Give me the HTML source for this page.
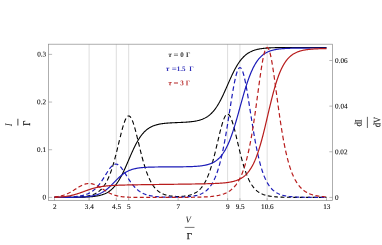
<!DOCTYPE html>
<html><head><meta charset="utf-8"><style>
html,body{margin:0;padding:0;background:#fff;}
svg{display:block}
text{font-family:"Liberation Serif",serif;text-rendering:geometricPrecision;}
.t{font-size:7.2px;fill:#000;stroke:#000;stroke-width:0.08px;}
.lg{font-size:7px;font-weight:bold;}
.ax{font-size:9px;fill:#1a1a1a;}
.axc{stroke:#1a1a1a;stroke-width:0.15px;}
.axb{stroke:#1a1a1a;stroke-width:0.25px;}
</style></head><body>
<svg width="382" height="245" viewBox="0 0 382 245">
<defs>
<filter id="f" x="0" y="0" width="382" height="245" filterUnits="userSpaceOnUse"><feOffset dx="0" dy="0"/></filter>
<clipPath id="c"><rect x="48.5" y="44.2" width="284.0" height="156.4"/></clipPath>
</defs>
<rect width="382" height="245" fill="#fff"/>
<line x1="89.12" y1="44.2" x2="89.12" y2="200.6" stroke="#d6d6d6" stroke-width="0.8"/><line x1="116.32" y1="44.2" x2="116.32" y2="200.6" stroke="#d6d6d6" stroke-width="0.8"/><line x1="128.68" y1="44.2" x2="128.68" y2="200.6" stroke="#d6d6d6" stroke-width="0.8"/><line x1="227.59" y1="44.2" x2="227.59" y2="200.6" stroke="#d6d6d6" stroke-width="0.8"/><line x1="239.95" y1="44.2" x2="239.95" y2="200.6" stroke="#d6d6d6" stroke-width="0.8"/><line x1="267.15" y1="44.2" x2="267.15" y2="200.6" stroke="#d6d6d6" stroke-width="0.8"/>
<g clip-path="url(#c)">
<path d="M54.50 197.40 L54.99 197.40 L55.49 197.40 L55.98 197.40 L56.48 197.40 L56.97 197.40 L57.47 197.40 L57.96 197.40 L58.46 197.40 L58.95 197.39 L59.45 197.39 L59.94 197.39 L60.43 197.39 L60.93 197.39 L61.42 197.39 L61.92 197.39 L62.41 197.39 L62.91 197.39 L63.40 197.38 L63.90 197.38 L64.39 197.38 L64.89 197.38 L65.38 197.38 L65.87 197.38 L66.37 197.37 L66.86 197.37 L67.36 197.37 L67.85 197.37 L68.35 197.37 L68.84 197.36 L69.34 197.36 L69.83 197.36 L70.33 197.35 L70.82 197.35 L71.31 197.35 L71.81 197.34 L72.30 197.34 L72.80 197.34 L73.29 197.33 L73.79 197.33 L74.28 197.32 L74.78 197.32 L75.27 197.31 L75.77 197.30 L76.26 197.30 L76.75 197.29 L77.25 197.28 L77.74 197.27 L78.24 197.27 L78.73 197.26 L79.23 197.25 L79.72 197.24 L80.22 197.23 L80.71 197.22 L81.21 197.20 L81.70 197.19 L82.19 197.18 L82.69 197.16 L83.18 197.15 L83.68 197.13 L84.17 197.11 L84.67 197.09 L85.16 197.08 L85.66 197.05 L86.15 197.03 L86.65 197.01 L87.14 196.98 L87.63 196.96 L88.13 196.93 L88.62 196.90 L89.12 196.87 L89.61 196.83 L90.11 196.80 L90.60 196.76 L91.10 196.72 L91.59 196.67 L92.09 196.63 L92.58 196.58 L93.07 196.53 L93.57 196.47 L94.06 196.41 L94.56 196.35 L95.05 196.28 L95.55 196.21 L96.04 196.14 L96.54 196.06 L97.03 195.98 L97.52 195.89 L98.02 195.79 L98.51 195.69 L99.01 195.59 L99.50 195.47 L100.00 195.36 L100.49 195.23 L100.99 195.09 L101.48 194.95 L101.98 194.80 L102.47 194.64 L102.96 194.47 L103.46 194.30 L103.95 194.11 L104.45 193.91 L104.94 193.70 L105.44 193.47 L105.93 193.24 L106.43 192.99 L106.92 192.73 L107.42 192.45 L107.91 192.16 L108.40 191.85 L108.90 191.52 L109.39 191.18 L109.89 190.82 L110.38 190.44 L110.88 190.04 L111.37 189.62 L111.87 189.18 L112.36 188.72 L112.86 188.24 L113.35 187.73 L113.84 187.20 L114.34 186.65 L114.83 186.07 L115.33 185.46 L115.82 184.83 L116.32 184.18 L116.81 183.49 L117.31 182.78 L117.80 182.04 L118.30 181.28 L118.79 180.49 L119.28 179.67 L119.78 178.82 L120.27 177.95 L120.77 177.05 L121.26 176.13 L121.76 175.18 L122.25 174.20 L122.75 173.21 L123.24 172.19 L123.74 171.15 L124.23 170.09 L124.72 169.01 L125.22 167.92 L125.71 166.82 L126.21 165.70 L126.70 164.57 L127.20 163.43 L127.69 162.28 L128.19 161.14 L128.68 159.98 L129.18 158.83 L129.67 157.68 L130.16 156.54 L130.66 155.40 L131.15 154.27 L131.65 153.15 L132.14 152.05 L132.64 150.95 L133.13 149.88 L133.63 148.82 L134.12 147.78 L134.62 146.76 L135.11 145.77 L135.60 144.79 L136.10 143.84 L136.59 142.92 L137.09 142.02 L137.58 141.15 L138.08 140.30 L138.57 139.48 L139.07 138.69 L139.56 137.92 L140.06 137.18 L140.55 136.47 L141.04 135.79 L141.54 135.13 L142.03 134.50 L142.53 133.90 L143.02 133.32 L143.52 132.76 L144.01 132.23 L144.51 131.73 L145.00 131.24 L145.50 130.78 L145.99 130.34 L146.48 129.92 L146.98 129.52 L147.47 129.14 L147.97 128.78 L148.46 128.44 L148.96 128.12 L149.45 127.81 L149.95 127.51 L150.44 127.24 L150.94 126.97 L151.43 126.72 L151.92 126.49 L152.42 126.26 L152.91 126.05 L153.41 125.85 L153.90 125.66 L154.40 125.48 L154.89 125.31 L155.39 125.15 L155.88 125.00 L156.38 124.86 L156.87 124.73 L157.36 124.60 L157.86 124.48 L158.35 124.37 L158.85 124.26 L159.34 124.16 L159.84 124.06 L160.33 123.97 L160.83 123.89 L161.32 123.81 L161.82 123.73 L162.31 123.66 L162.80 123.59 L163.30 123.53 L163.79 123.47 L164.29 123.41 L164.78 123.35 L165.28 123.30 L165.77 123.26 L166.27 123.21 L166.76 123.17 L167.26 123.12 L167.75 123.09 L168.24 123.05 L168.74 123.01 L169.23 122.98 L169.73 122.95 L170.22 122.92 L170.72 122.89 L171.21 122.86 L171.71 122.83 L172.20 122.80 L172.70 122.78 L173.19 122.76 L173.68 122.73 L174.18 122.71 L174.67 122.69 L175.17 122.66 L175.66 122.64 L176.16 122.62 L176.65 122.60 L177.15 122.58 L177.64 122.56 L178.13 122.54 L178.63 122.52 L179.12 122.50 L179.62 122.47 L180.11 122.45 L180.61 122.43 L181.10 122.41 L181.60 122.39 L182.09 122.36 L182.59 122.34 L183.08 122.31 L183.57 122.29 L184.07 122.26 L184.56 122.23 L185.06 122.21 L185.55 122.18 L186.05 122.14 L186.54 122.11 L187.04 122.08 L187.53 122.04 L188.03 122.00 L188.52 121.96 L189.01 121.92 L189.51 121.88 L190.00 121.83 L190.50 121.78 L190.99 121.73 L191.49 121.67 L191.98 121.61 L192.48 121.55 L192.97 121.49 L193.47 121.42 L193.96 121.35 L194.45 121.27 L194.95 121.19 L195.44 121.10 L195.94 121.01 L196.43 120.92 L196.93 120.82 L197.42 120.71 L197.92 120.59 L198.41 120.47 L198.91 120.35 L199.40 120.21 L199.89 120.07 L200.39 119.92 L200.88 119.76 L201.38 119.59 L201.87 119.42 L202.37 119.23 L202.86 119.03 L203.36 118.82 L203.85 118.60 L204.35 118.37 L204.84 118.12 L205.33 117.87 L205.83 117.59 L206.32 117.31 L206.82 117.00 L207.31 116.69 L207.81 116.35 L208.30 116.00 L208.80 115.63 L209.29 115.24 L209.79 114.83 L210.28 114.41 L210.77 113.96 L211.27 113.49 L211.76 113.00 L212.26 112.48 L212.75 111.95 L213.25 111.39 L213.74 110.80 L214.24 110.19 L214.73 109.56 L215.23 108.90 L215.72 108.21 L216.21 107.50 L216.71 106.77 L217.20 106.00 L217.70 105.21 L218.19 104.40 L218.69 103.56 L219.18 102.69 L219.68 101.80 L220.17 100.88 L220.67 99.94 L221.16 98.98 L221.65 98.00 L222.15 96.99 L222.64 95.97 L223.14 94.92 L223.63 93.86 L224.13 92.79 L224.62 91.70 L225.12 90.60 L225.61 89.49 L226.11 88.38 L226.60 87.25 L227.09 86.13 L227.59 85.00 L228.08 83.87 L228.58 82.74 L229.07 81.62 L229.57 80.50 L230.06 79.39 L230.56 78.29 L231.05 77.20 L231.55 76.13 L232.04 75.07 L232.53 74.03 L233.03 73.00 L233.52 72.00 L234.02 71.02 L234.51 70.05 L235.01 69.11 L235.50 68.20 L236.00 67.31 L236.49 66.44 L236.99 65.60 L237.48 64.78 L237.97 63.99 L238.47 63.23 L238.96 62.49 L239.46 61.78 L239.95 61.10 L240.45 60.44 L240.94 59.80 L241.44 59.19 L241.93 58.61 L242.43 58.05 L242.92 57.51 L243.41 57.00 L243.91 56.51 L244.40 56.04 L244.90 55.59 L245.39 55.16 L245.89 54.76 L246.38 54.37 L246.88 54.00 L247.37 53.65 L247.87 53.31 L248.36 52.99 L248.85 52.69 L249.35 52.41 L249.84 52.13 L250.34 51.88 L250.83 51.63 L251.33 51.40 L251.82 51.18 L252.32 50.97 L252.81 50.77 L253.31 50.59 L253.80 50.41 L254.29 50.24 L254.79 50.08 L255.28 49.93 L255.78 49.79 L256.27 49.66 L256.77 49.53 L257.26 49.41 L257.76 49.30 L258.25 49.19 L258.75 49.09 L259.24 49.00 L259.73 48.91 L260.23 48.82 L260.72 48.74 L261.22 48.67 L261.71 48.60 L262.21 48.53 L262.70 48.47 L263.20 48.41 L263.69 48.35 L264.18 48.30 L264.68 48.25 L265.17 48.20 L265.67 48.16 L266.16 48.11 L266.66 48.08 L267.15 48.04 L267.65 48.00 L268.14 47.97 L268.64 47.94 L269.13 47.91 L269.62 47.88 L270.12 47.86 L270.61 47.83 L271.11 47.81 L271.60 47.79 L272.10 47.76 L272.59 47.75 L273.09 47.73 L273.58 47.71 L274.08 47.69 L274.57 47.68 L275.06 47.66 L275.56 47.65 L276.05 47.64 L276.55 47.63 L277.04 47.61 L277.54 47.60 L278.03 47.59 L278.53 47.58 L279.02 47.58 L279.52 47.57 L280.01 47.56 L280.50 47.55 L281.00 47.54 L281.49 47.54 L281.99 47.53 L282.48 47.53 L282.98 47.52 L283.47 47.52 L283.97 47.51 L284.46 47.51 L284.96 47.50 L285.45 47.50 L285.94 47.49 L286.44 47.49 L286.93 47.49 L287.43 47.48 L287.92 47.48 L288.42 47.48 L288.91 47.47 L289.41 47.47 L289.90 47.47 L290.40 47.47 L290.89 47.47 L291.38 47.46 L291.88 47.46 L292.37 47.46 L292.87 47.46 L293.36 47.46 L293.86 47.45 L294.35 47.45 L294.85 47.45 L295.34 47.45 L295.84 47.45 L296.33 47.45 L296.82 47.45 L297.32 47.45 L297.81 47.45 L298.31 47.44 L298.80 47.44 L299.30 47.44 L299.79 47.44 L300.29 47.44 L300.78 47.44 L301.28 47.44 L301.77 47.44 L302.26 47.44 L302.76 47.44 L303.25 47.44 L303.75 47.44 L304.24 47.44 L304.74 47.44 L305.23 47.44 L305.73 47.44 L306.22 47.44 L306.72 47.44 L307.21 47.44 L307.70 47.44 L308.20 47.43 L308.69 47.43 L309.19 47.43 L309.68 47.43 L310.18 47.43 L310.67 47.43 L311.17 47.43 L311.66 47.43 L312.16 47.43 L312.65 47.43 L313.14 47.43 L313.64 47.43 L314.13 47.43 L314.63 47.43 L315.12 47.43 L315.62 47.43 L316.11 47.43 L316.61 47.43 L317.10 47.43 L317.60 47.43 L318.09 47.43 L318.58 47.43 L319.08 47.43 L319.57 47.43 L320.07 47.43 L320.56 47.43 L321.06 47.43 L321.55 47.43 L322.05 47.43 L322.54 47.43 L323.04 47.43 L323.53 47.43 L324.02 47.43 L324.52 47.43 L325.01 47.43 L325.51 47.43 L326.00 47.43 L326.50 47.43" fill="none" stroke="#000000" stroke-width="1.1"/>
<path d="M54.50 197.38 L54.99 197.38 L55.49 197.38 L55.98 197.38 L56.48 197.38 L56.97 197.38 L57.47 197.37 L57.96 197.37 L58.40 197.37 M60.90 197.36 L60.93 197.36 L61.42 197.36 L61.92 197.35 L62.41 197.35 L62.91 197.35 L63.40 197.34 L63.90 197.34 L64.39 197.34 L64.80 197.33 M67.30 197.30 L67.36 197.30 L67.85 197.30 L68.35 197.29 L68.84 197.28 L69.34 197.28 L69.83 197.27 L70.33 197.26 L70.82 197.25 L71.20 197.24 M73.70 197.18 L73.79 197.18 L74.28 197.16 L74.78 197.14 L75.27 197.13 L75.77 197.11 L76.26 197.09 L76.75 197.07 L77.25 197.04 L77.60 197.03 M80.09 196.88 L80.22 196.87 L80.71 196.84 L81.21 196.80 L81.70 196.76 L82.19 196.72 L82.69 196.67 L83.18 196.62 L83.68 196.57 L83.98 196.54 M86.47 196.20 L86.65 196.17 L87.14 196.09 L87.63 196.00 L88.13 195.91 L88.62 195.81 L89.12 195.70 L89.61 195.59 L90.11 195.47 L90.31 195.41 M92.73 194.67 L93.07 194.55 L93.57 194.36 L94.06 194.16 L94.56 193.94 L95.05 193.71 L95.55 193.47 L96.04 193.21 L96.38 193.02 M98.58 191.60 L99.01 191.27 L99.50 190.87 L100.00 190.45 L100.49 190.00 L100.99 189.52 L101.48 189.02 L101.69 188.79 M103.46 186.67 L103.46 186.67 L103.95 186.00 L104.45 185.29 L104.94 184.53 L105.44 183.74 L105.87 183.00 M107.22 180.48 L107.42 180.10 L107.91 179.06 L108.40 177.98 L108.90 176.84 L109.09 176.37 M110.17 173.66 L110.38 173.09 L110.88 171.73 L111.37 170.31 L111.69 169.35 M112.59 166.56 L112.86 165.69 L113.35 164.04 L113.84 162.33 L113.90 162.15 M114.69 159.30 L114.83 158.75 L115.33 156.89 L115.82 154.99 L115.86 154.84 M116.59 151.97 L116.81 151.07 L117.31 149.06 L117.69 147.48 M118.39 144.60 L118.79 142.92 L119.28 140.87 L119.47 140.10 M120.17 137.22 L120.27 136.80 L120.77 134.81 L121.26 132.85 L121.29 132.74 M122.05 129.88 L122.25 129.12 L122.75 127.36 L123.24 125.68 L123.31 125.45 M124.22 122.66 L124.23 122.64 L124.72 121.30 L125.22 120.09 L125.71 119.02 L125.99 118.50 M127.67 116.31 L127.69 116.29 L128.19 116.03 L128.68 115.94 L129.18 116.03 L129.67 116.29 L130.16 116.73 L130.66 117.33 L130.95 117.78 M132.25 120.34 L132.64 121.30 L133.13 122.64 L133.63 124.11 L133.79 124.64 M134.64 127.46 L135.11 129.12 L135.60 130.95 L135.85 131.91 M136.59 134.78 L136.59 134.81 L137.09 136.80 L137.58 138.82 L137.69 139.26 M138.39 142.15 L138.57 142.92 L139.07 144.98 L139.47 146.64 M140.17 149.52 L140.55 151.06 L141.04 153.04 L141.29 154.00 M142.03 156.87 L142.03 156.89 L142.53 158.75 L143.02 160.56 L143.24 161.32 M144.05 164.16 L144.51 165.69 L145.00 167.28 L145.41 168.54 M146.35 171.32 L146.48 171.72 L146.98 173.09 L147.47 174.39 L147.95 175.59 M149.09 178.26 L149.45 179.05 L149.95 180.09 L150.44 181.07 L150.94 182.00 L151.09 182.27 M152.55 184.71 L152.91 185.27 L153.41 185.98 L153.90 186.65 L154.40 187.29 L154.89 187.89 L155.15 188.19 M157.05 190.14 L157.36 190.42 L157.86 190.84 L158.35 191.24 L158.85 191.61 L159.34 191.96 L159.84 192.29 L160.33 192.60 L160.35 192.61 M162.64 193.81 L162.80 193.88 L163.30 194.09 L163.79 194.29 L164.29 194.47 L164.78 194.65 L165.28 194.81 L165.77 194.96 L166.27 195.10 L166.38 195.13 M168.84 195.69 L169.23 195.76 L169.73 195.85 L170.22 195.92 L170.72 196.00 L171.21 196.06 L171.71 196.12 L172.20 196.18 L172.70 196.22 L172.71 196.23 M175.21 196.40 L175.66 196.42 L176.16 196.44 L176.65 196.45 L177.15 196.46 L177.64 196.47 L178.13 196.47 L178.63 196.46 L179.11 196.46 M181.61 196.36 L182.09 196.33 L182.59 196.30 L183.08 196.25 L183.57 196.21 L184.07 196.16 L184.56 196.10 L185.06 196.04 L185.49 195.98 M187.97 195.55 L188.03 195.54 L188.52 195.43 L189.01 195.31 L189.51 195.19 L190.00 195.05 L190.50 194.91 L190.99 194.75 L191.49 194.59 L191.76 194.49 M194.12 193.50 L194.45 193.33 L194.95 193.07 L195.44 192.79 L195.94 192.49 L196.43 192.18 L196.93 191.84 L197.42 191.48 L197.58 191.36 M199.61 189.60 L199.89 189.32 L200.39 188.80 L200.88 188.26 L201.38 187.68 L201.87 187.06 L202.37 186.41 L202.41 186.36 M203.98 184.02 L204.35 183.42 L204.84 182.56 L205.33 181.65 L205.83 180.70 L206.12 180.11 M207.33 177.49 L207.81 176.37 L208.30 175.15 L208.80 173.88 L209.02 173.27 M210.00 170.51 L210.28 169.69 L210.77 168.18 L211.27 166.61 L211.41 166.15 M212.25 163.32 L212.26 163.29 L212.75 161.54 L213.25 159.74 L213.48 158.88 M214.23 156.02 L214.24 155.98 L214.73 154.04 L215.23 152.05 L215.35 151.54 M216.05 148.66 L216.21 147.97 L216.71 145.89 L217.12 144.16 M217.80 141.27 L218.19 139.60 L218.69 137.51 L218.87 136.77 M219.56 133.88 L219.68 133.40 L220.17 131.41 L220.67 129.46 L220.68 129.40 M221.45 126.55 L221.65 125.79 L222.15 124.07 L222.64 122.46 L222.75 122.14 M223.72 119.37 L224.13 118.35 L224.62 117.26 L225.12 116.32 L225.61 115.53 L225.73 115.38 M227.89 114.17 L228.08 114.21 L228.58 114.47 L229.07 114.92 L229.57 115.53 L230.06 116.32 L230.56 117.26 L230.60 117.35 M231.70 120.03 L232.04 120.97 L232.53 122.47 L233.03 124.08 L233.12 124.39 M233.92 127.23 L234.02 127.59 L234.51 129.47 L235.01 131.41 L235.08 131.70 M235.79 134.58 L236.00 135.44 L236.49 137.51 L236.86 139.08 M237.54 141.97 L237.97 143.80 L238.47 145.90 L238.61 146.47 M239.30 149.35 L239.46 150.03 L239.95 152.05 L240.40 153.84 M241.13 156.71 L241.44 157.89 L241.93 159.74 L242.32 161.17 M243.13 164.00 L243.41 164.98 L243.91 166.61 L244.40 168.19 L244.47 168.40 M245.40 171.18 L245.89 172.55 L246.38 173.88 L246.88 175.16 L246.99 175.45 M248.13 178.13 L248.36 178.65 L248.85 179.71 L249.35 180.71 L249.84 181.67 L250.11 182.16 M251.56 184.60 L251.82 185.01 L252.32 185.74 L252.81 186.43 L253.31 187.08 L253.80 187.70 L254.14 188.10 M256.03 190.07 L256.27 190.29 L256.77 190.73 L257.26 191.13 L257.76 191.52 L258.25 191.88 L258.75 192.22 L259.24 192.54 L259.31 192.58 M261.59 193.81 L261.71 193.87 L262.21 194.09 L262.70 194.29 L263.20 194.49 L263.69 194.67 L264.18 194.84 L264.68 195.00 L265.17 195.15 L265.31 195.19 M267.76 195.80 L268.14 195.87 L268.64 195.97 L269.13 196.06 L269.62 196.14 L270.12 196.22 L270.61 196.30 L271.11 196.37 L271.60 196.43 L271.62 196.44 M274.11 196.71 L274.57 196.75 L275.06 196.79 L275.56 196.83 L276.05 196.86 L276.55 196.90 L277.04 196.93 L277.54 196.96 L278.01 196.98 M280.51 197.10 L281.00 197.12 L281.49 197.14 L281.99 197.15 L282.48 197.17 L282.98 197.18 L283.47 197.20 L283.97 197.21 L284.40 197.22 M286.90 197.27 L286.93 197.27 L287.43 197.28 L287.92 197.29 L288.42 197.30 L288.91 197.30 L289.41 197.31 L289.90 197.31 L290.40 197.32 L290.80 197.32 M293.30 197.35 L293.36 197.35 L293.86 197.35 L294.35 197.35 L294.85 197.36 L295.34 197.36 L295.84 197.36 L296.33 197.36 L296.82 197.37 L297.20 197.37 M299.70 197.38 L299.79 197.38 L300.29 197.38 L300.78 197.38 L301.28 197.38 L301.77 197.38 L302.26 197.38 L302.76 197.38 L303.25 197.39 L303.60 197.39 M306.10 197.39 L306.22 197.39 L306.72 197.39 L307.21 197.39 L307.70 197.39 L308.20 197.39 L308.69 197.39 L309.19 197.39 L309.68 197.39 L310.00 197.39 M312.50 197.40 L312.65 197.40 L313.14 197.40 L313.64 197.40 L314.13 197.40 L314.63 197.40 L315.12 197.40 L315.62 197.40 L316.11 197.40 L316.40 197.40 M318.90 197.40 L319.08 197.40 L319.57 197.40 L320.07 197.40 L320.56 197.40 L321.06 197.40 L321.55 197.40 L322.05 197.40 L322.54 197.40 L322.80 197.40 M325.30 197.40 L325.51 197.40 L326.00 197.40 L326.50 197.40" fill="none" stroke="#000000" stroke-width="1.1"/>
<path d="M54.50 197.40 L54.99 197.40 L55.49 197.40 L55.98 197.40 L56.48 197.40 L56.97 197.40 L57.47 197.40 L57.96 197.39 L58.46 197.39 L58.95 197.39 L59.45 197.39 L59.94 197.39 L60.43 197.39 L60.93 197.39 L61.42 197.38 L61.92 197.38 L62.41 197.38 L62.91 197.38 L63.40 197.38 L63.90 197.38 L64.39 197.37 L64.89 197.37 L65.38 197.37 L65.87 197.36 L66.37 197.36 L66.86 197.36 L67.36 197.36 L67.85 197.35 L68.35 197.35 L68.84 197.34 L69.34 197.34 L69.83 197.33 L70.33 197.33 L70.82 197.32 L71.31 197.32 L71.81 197.31 L72.30 197.30 L72.80 197.30 L73.29 197.29 L73.79 197.28 L74.28 197.27 L74.78 197.26 L75.27 197.25 L75.77 197.24 L76.26 197.23 L76.75 197.22 L77.25 197.20 L77.74 197.19 L78.24 197.18 L78.73 197.16 L79.23 197.14 L79.72 197.12 L80.22 197.11 L80.71 197.08 L81.21 197.06 L81.70 197.04 L82.19 197.01 L82.69 196.99 L83.18 196.96 L83.68 196.93 L84.17 196.89 L84.67 196.86 L85.16 196.82 L85.66 196.78 L86.15 196.74 L86.65 196.70 L87.14 196.65 L87.63 196.60 L88.13 196.54 L88.62 196.48 L89.12 196.42 L89.61 196.36 L90.11 196.29 L90.60 196.21 L91.10 196.13 L91.59 196.05 L92.09 195.96 L92.58 195.87 L93.07 195.77 L93.57 195.66 L94.06 195.55 L94.56 195.43 L95.05 195.30 L95.55 195.16 L96.04 195.02 L96.54 194.87 L97.03 194.71 L97.52 194.54 L98.02 194.36 L98.51 194.18 L99.01 193.98 L99.50 193.77 L100.00 193.55 L100.49 193.32 L100.99 193.08 L101.48 192.83 L101.98 192.56 L102.47 192.28 L102.96 191.99 L103.46 191.69 L103.95 191.37 L104.45 191.04 L104.94 190.70 L105.44 190.35 L105.93 189.98 L106.43 189.60 L106.92 189.20 L107.42 188.80 L107.91 188.38 L108.40 187.95 L108.90 187.51 L109.39 187.06 L109.89 186.60 L110.38 186.13 L110.88 185.65 L111.37 185.16 L111.87 184.67 L112.36 184.18 L112.86 183.67 L113.35 183.17 L113.84 182.66 L114.34 182.15 L114.83 181.64 L115.33 181.14 L115.82 180.63 L116.32 180.13 L116.81 179.63 L117.31 179.14 L117.80 178.66 L118.30 178.18 L118.79 177.71 L119.28 177.25 L119.78 176.80 L120.27 176.36 L120.77 175.93 L121.26 175.51 L121.76 175.10 L122.25 174.71 L122.75 174.33 L123.24 173.96 L123.74 173.60 L124.23 173.26 L124.72 172.93 L125.22 172.62 L125.71 172.31 L126.21 172.02 L126.70 171.75 L127.20 171.48 L127.69 171.23 L128.19 170.98 L128.68 170.75 L129.18 170.53 L129.67 170.33 L130.16 170.13 L130.66 169.94 L131.15 169.76 L131.65 169.59 L132.14 169.44 L132.64 169.28 L133.13 169.14 L133.63 169.01 L134.12 168.88 L134.62 168.76 L135.11 168.65 L135.60 168.54 L136.10 168.44 L136.59 168.34 L137.09 168.26 L137.58 168.17 L138.08 168.09 L138.57 168.02 L139.07 167.95 L139.56 167.88 L140.06 167.82 L140.55 167.76 L141.04 167.71 L141.54 167.66 L142.03 167.61 L142.53 167.56 L143.02 167.52 L143.52 167.48 L144.01 167.45 L144.51 167.41 L145.00 167.38 L145.50 167.35 L145.99 167.32 L146.48 167.29 L146.98 167.27 L147.47 167.24 L147.97 167.22 L148.46 167.20 L148.96 167.18 L149.45 167.16 L149.95 167.14 L150.44 167.13 L150.94 167.11 L151.43 167.10 L151.92 167.09 L152.42 167.07 L152.91 167.06 L153.41 167.05 L153.90 167.04 L154.40 167.03 L154.89 167.02 L155.39 167.01 L155.88 167.01 L156.38 167.00 L156.87 166.99 L157.36 166.98 L157.86 166.98 L158.35 166.97 L158.85 166.97 L159.34 166.96 L159.84 166.96 L160.33 166.95 L160.83 166.95 L161.32 166.94 L161.82 166.94 L162.31 166.93 L162.80 166.93 L163.30 166.93 L163.79 166.92 L164.29 166.92 L164.78 166.92 L165.28 166.92 L165.77 166.91 L166.27 166.91 L166.76 166.91 L167.26 166.90 L167.75 166.90 L168.24 166.90 L168.74 166.90 L169.23 166.89 L169.73 166.89 L170.22 166.89 L170.72 166.89 L171.21 166.88 L171.71 166.88 L172.20 166.88 L172.70 166.88 L173.19 166.87 L173.68 166.87 L174.18 166.87 L174.67 166.86 L175.17 166.86 L175.66 166.86 L176.16 166.85 L176.65 166.85 L177.15 166.85 L177.64 166.84 L178.13 166.84 L178.63 166.83 L179.12 166.83 L179.62 166.82 L180.11 166.82 L180.61 166.81 L181.10 166.81 L181.60 166.80 L182.09 166.80 L182.59 166.79 L183.08 166.78 L183.57 166.77 L184.07 166.77 L184.56 166.76 L185.06 166.75 L185.55 166.74 L186.05 166.73 L186.54 166.72 L187.04 166.71 L187.53 166.70 L188.03 166.68 L188.52 166.67 L189.01 166.66 L189.51 166.64 L190.00 166.62 L190.50 166.61 L190.99 166.59 L191.49 166.57 L191.98 166.55 L192.48 166.53 L192.97 166.51 L193.47 166.48 L193.96 166.46 L194.45 166.43 L194.95 166.40 L195.44 166.37 L195.94 166.34 L196.43 166.30 L196.93 166.27 L197.42 166.23 L197.92 166.18 L198.41 166.14 L198.91 166.09 L199.40 166.04 L199.89 165.99 L200.39 165.94 L200.88 165.88 L201.38 165.82 L201.87 165.75 L202.37 165.68 L202.86 165.60 L203.36 165.52 L203.85 165.44 L204.35 165.35 L204.84 165.26 L205.33 165.16 L205.83 165.05 L206.32 164.94 L206.82 164.82 L207.31 164.69 L207.81 164.56 L208.30 164.42 L208.80 164.27 L209.29 164.11 L209.79 163.94 L210.28 163.76 L210.77 163.57 L211.27 163.37 L211.76 163.16 L212.26 162.94 L212.75 162.70 L213.25 162.45 L213.74 162.18 L214.24 161.90 L214.73 161.61 L215.23 161.30 L215.72 160.97 L216.21 160.62 L216.71 160.25 L217.20 159.86 L217.70 159.46 L218.19 159.02 L218.69 158.57 L219.18 158.09 L219.68 157.59 L220.17 157.06 L220.67 156.50 L221.16 155.92 L221.65 155.31 L222.15 154.66 L222.64 153.99 L223.14 153.28 L223.63 152.53 L224.13 151.76 L224.62 150.94 L225.12 150.10 L225.61 149.21 L226.11 148.28 L226.60 147.32 L227.09 146.32 L227.59 145.27 L228.08 144.19 L228.58 143.06 L229.07 141.90 L229.57 140.69 L230.06 139.44 L230.56 138.15 L231.05 136.82 L231.55 135.44 L232.04 134.03 L232.53 132.58 L233.03 131.10 L233.52 129.58 L234.02 128.02 L234.51 126.43 L235.01 124.81 L235.50 123.16 L236.00 121.48 L236.49 119.78 L236.99 118.06 L237.48 116.32 L237.97 114.57 L238.47 112.80 L238.96 111.02 L239.46 109.24 L239.95 107.45 L240.45 105.66 L240.94 103.88 L241.44 102.10 L241.93 100.33 L242.43 98.58 L242.92 96.84 L243.41 95.12 L243.91 93.42 L244.40 91.74 L244.90 90.09 L245.39 88.47 L245.89 86.88 L246.38 85.32 L246.88 83.80 L247.37 82.31 L247.87 80.87 L248.36 79.45 L248.85 78.08 L249.35 76.75 L249.84 75.46 L250.34 74.21 L250.83 73.00 L251.33 71.84 L251.82 70.71 L252.32 69.63 L252.81 68.58 L253.31 67.58 L253.80 66.62 L254.29 65.69 L254.79 64.80 L255.28 63.95 L255.78 63.14 L256.27 62.37 L256.77 61.62 L257.26 60.91 L257.76 60.24 L258.25 59.59 L258.75 58.98 L259.24 58.39 L259.73 57.84 L260.23 57.31 L260.72 56.81 L261.22 56.33 L261.71 55.87 L262.21 55.44 L262.70 55.04 L263.20 54.65 L263.69 54.28 L264.18 53.93 L264.68 53.60 L265.17 53.29 L265.67 52.99 L266.16 52.71 L266.66 52.45 L267.15 52.20 L267.65 51.96 L268.14 51.74 L268.64 51.53 L269.13 51.33 L269.62 51.14 L270.12 50.96 L270.61 50.79 L271.11 50.63 L271.60 50.48 L272.10 50.34 L272.59 50.21 L273.09 50.08 L273.58 49.96 L274.08 49.85 L274.57 49.74 L275.06 49.64 L275.56 49.55 L276.05 49.46 L276.55 49.37 L277.04 49.30 L277.54 49.22 L278.03 49.15 L278.53 49.08 L279.02 49.02 L279.52 48.96 L280.01 48.91 L280.50 48.85 L281.00 48.81 L281.49 48.76 L281.99 48.72 L282.48 48.67 L282.98 48.63 L283.47 48.60 L283.97 48.56 L284.46 48.53 L284.96 48.50 L285.45 48.47 L285.94 48.44 L286.44 48.42 L286.93 48.39 L287.43 48.37 L287.92 48.35 L288.42 48.33 L288.91 48.31 L289.41 48.29 L289.90 48.28 L290.40 48.26 L290.89 48.25 L291.38 48.23 L291.88 48.22 L292.37 48.21 L292.87 48.19 L293.36 48.18 L293.86 48.17 L294.35 48.16 L294.85 48.15 L295.34 48.14 L295.84 48.14 L296.33 48.13 L296.82 48.12 L297.32 48.11 L297.81 48.11 L298.31 48.10 L298.80 48.10 L299.30 48.09 L299.79 48.09 L300.29 48.08 L300.78 48.08 L301.28 48.07 L301.77 48.07 L302.26 48.06 L302.76 48.06 L303.25 48.06 L303.75 48.05 L304.24 48.05 L304.74 48.05 L305.23 48.05 L305.73 48.04 L306.22 48.04 L306.72 48.04 L307.21 48.04 L307.70 48.03 L308.20 48.03 L308.69 48.03 L309.19 48.03 L309.68 48.03 L310.18 48.03 L310.67 48.02 L311.17 48.02 L311.66 48.02 L312.16 48.02 L312.65 48.02 L313.14 48.02 L313.64 48.02 L314.13 48.02 L314.63 48.02 L315.12 48.02 L315.62 48.01 L316.11 48.01 L316.61 48.01 L317.10 48.01 L317.60 48.01 L318.09 48.01 L318.58 48.01 L319.08 48.01 L319.57 48.01 L320.07 48.01 L320.56 48.01 L321.06 48.01 L321.55 48.01 L322.05 48.01 L322.54 48.01 L323.04 48.01 L323.53 48.01 L324.02 48.01 L324.52 48.01 L325.01 48.01 L325.51 48.01 L326.00 48.01 L326.50 48.01" fill="none" stroke="#1c1cb8" stroke-width="1.2"/>
<path d="M54.50 197.34 L54.99 197.34 L55.49 197.34 L55.98 197.33 L56.48 197.33 L56.97 197.32 L57.47 197.32 L57.96 197.31 L58.40 197.31 M60.90 197.27 L60.93 197.27 L61.42 197.26 L61.92 197.25 L62.41 197.24 L62.91 197.23 L63.40 197.22 L63.90 197.21 L64.39 197.20 L64.80 197.19 M67.30 197.11 L67.36 197.11 L67.85 197.09 L68.35 197.07 L68.84 197.05 L69.34 197.03 L69.83 197.00 L70.33 196.98 L70.82 196.95 L71.20 196.93 M73.69 196.76 L73.79 196.75 L74.28 196.71 L74.78 196.66 L75.27 196.62 L75.77 196.57 L76.26 196.51 L76.75 196.46 L77.25 196.40 L77.58 196.36 M80.06 195.98 L80.22 195.95 L80.71 195.86 L81.21 195.76 L81.70 195.66 L82.19 195.55 L82.69 195.44 L83.18 195.31 L83.68 195.18 L83.89 195.13 M86.30 194.35 L86.65 194.23 L87.14 194.03 L87.63 193.83 L88.13 193.61 L88.62 193.38 L89.12 193.14 L89.61 192.88 L89.95 192.70 M92.17 191.32 L92.58 191.03 L93.07 190.66 L93.57 190.28 L94.06 189.87 L94.56 189.45 L95.05 189.01 L95.39 188.69 M97.29 186.74 L97.52 186.48 L98.02 185.91 L98.51 185.31 L99.01 184.70 L99.50 184.07 L100.00 183.41 L100.01 183.39 M101.63 181.10 L101.98 180.59 L102.47 179.85 L102.96 179.08 L103.46 178.31 L103.95 177.53 L104.03 177.41 M105.52 175.00 L105.93 174.33 L106.43 173.54 L106.92 172.75 L107.42 171.97 L107.87 171.27 M109.45 168.95 L109.89 168.37 L110.38 167.73 L110.88 167.14 L111.37 166.59 L111.87 166.09 L112.26 165.72 M114.47 164.34 L114.83 164.22 L115.33 164.12 L115.82 164.09 L116.32 164.12 L116.81 164.22 L117.31 164.38 L117.80 164.60 L118.24 164.86 M120.27 166.59 L120.27 166.59 L120.77 167.14 L121.26 167.73 L121.76 168.37 L122.25 169.03 L122.75 169.73 L122.93 170.00 M124.48 172.36 L124.72 172.75 L125.22 173.54 L125.71 174.33 L126.21 175.13 L126.70 175.94 L126.81 176.11 M128.31 178.51 L128.68 179.08 L129.18 179.85 L129.67 180.59 L130.16 181.32 L130.66 182.04 L130.75 182.16 M132.41 184.41 L132.64 184.70 L133.13 185.31 L133.63 185.91 L134.12 186.48 L134.62 187.02 L135.11 187.55 L135.21 187.66 M137.17 189.52 L137.58 189.87 L138.08 190.28 L138.57 190.66 L139.07 191.03 L139.56 191.38 L140.06 191.71 L140.48 191.98 M142.75 193.24 L143.02 193.38 L143.52 193.61 L144.01 193.82 L144.51 194.03 L145.00 194.22 L145.50 194.41 L145.99 194.58 L146.45 194.73 M148.88 195.41 L148.96 195.43 L149.45 195.55 L149.95 195.66 L150.44 195.76 L150.94 195.86 L151.43 195.95 L151.92 196.03 L152.42 196.11 L152.73 196.16 M155.21 196.48 L155.39 196.50 L155.88 196.56 L156.38 196.61 L156.87 196.65 L157.36 196.70 L157.86 196.74 L158.35 196.77 L158.85 196.81 L159.10 196.83 M161.60 196.97 L161.82 196.98 L162.31 197.00 L162.80 197.02 L163.30 197.04 L163.79 197.06 L164.29 197.08 L164.78 197.09 L165.28 197.11 L165.50 197.11 M168.00 197.17 L168.24 197.17 L168.74 197.18 L169.23 197.19 L169.73 197.19 L170.22 197.20 L170.72 197.20 L171.21 197.20 L171.71 197.20 L171.90 197.21 M174.40 197.20 L174.67 197.20 L175.17 197.20 L175.66 197.20 L176.16 197.19 L176.65 197.19 L177.15 197.18 L177.64 197.17 L178.13 197.16 L178.30 197.16 M180.80 197.10 L181.10 197.09 L181.60 197.08 L182.09 197.06 L182.59 197.04 L183.08 197.02 L183.57 197.00 L184.07 196.98 L184.56 196.95 L184.70 196.95 M187.19 196.79 L187.53 196.77 L188.03 196.73 L188.52 196.68 L189.01 196.64 L189.51 196.59 L190.00 196.54 L190.50 196.48 L190.99 196.43 L191.08 196.42 M193.56 196.05 L193.96 195.98 L194.45 195.89 L194.95 195.80 L195.44 195.69 L195.94 195.58 L196.43 195.46 L196.93 195.34 L197.40 195.21 M199.81 194.43 L199.89 194.40 L200.39 194.20 L200.88 194.00 L201.38 193.78 L201.87 193.55 L202.37 193.30 L202.86 193.03 L203.36 192.75 L203.43 192.71 M205.61 191.23 L205.83 191.06 L206.32 190.66 L206.82 190.23 L207.31 189.77 L207.81 189.29 L208.30 188.77 L208.68 188.36 M210.41 186.20 L210.77 185.70 L211.27 184.97 L211.76 184.19 L212.26 183.38 L212.75 182.51 L212.77 182.48 M214.08 179.93 L214.24 179.61 L214.73 178.53 L215.23 177.39 L215.72 176.19 L215.88 175.78 M216.91 173.04 L217.20 172.20 L217.70 170.73 L218.19 169.18 L218.34 168.69 M219.18 165.86 L219.18 165.85 L219.68 164.07 L220.17 162.20 L220.37 161.41 M221.08 158.53 L221.16 158.22 L221.65 156.09 L222.12 154.02 M222.74 151.11 L223.14 149.21 L223.63 146.74 L223.67 146.56 M224.23 143.64 L224.62 141.55 L225.07 139.07 M225.59 136.14 L225.61 136.04 L226.11 133.17 L226.38 131.55 M226.87 128.61 L227.09 127.25 L227.59 124.21 L227.62 124.02 M228.09 121.07 L228.58 117.99 L228.82 116.48 M229.28 113.53 L229.57 111.67 L229.99 108.93 M230.46 105.98 L230.56 105.33 L231.05 102.19 L231.18 101.38 M231.65 98.43 L232.04 96.05 L232.41 93.84 M232.91 90.90 L233.03 90.18 L233.52 87.40 L233.72 86.33 M234.28 83.40 L234.51 82.20 L235.01 79.82 L235.22 78.86 M235.90 75.98 L236.00 75.60 L236.49 73.78 L236.99 72.17 L237.20 71.56 M238.37 68.92 L238.47 68.74 L238.96 68.09 L239.46 67.70 L239.95 67.57 L240.45 67.70 L240.94 68.09 L241.44 68.74 L241.47 68.80 M242.66 71.43 L242.92 72.17 L243.41 73.78 L243.91 75.60 L243.97 75.84 M244.65 78.72 L244.90 79.82 L245.39 82.20 L245.60 83.26 M246.16 86.19 L246.38 87.40 L246.88 90.18 L246.98 90.76 M247.48 93.70 L247.87 96.05 L248.23 98.29 M248.70 101.24 L248.85 102.19 L249.35 105.33 L249.43 105.84 M249.89 108.79 L250.34 111.67 L250.61 113.39 M251.07 116.33 L251.33 117.99 L251.79 120.93 M252.26 123.88 L252.32 124.21 L252.81 127.25 L253.01 128.47 M253.50 131.41 L253.80 133.17 L254.29 136.00 M254.81 138.93 L255.28 141.55 L255.65 143.50 M256.21 146.43 L256.27 146.74 L256.77 149.21 L257.13 150.97 M257.75 153.88 L257.76 153.89 L258.25 156.10 L258.75 158.22 L258.79 158.39 M259.50 161.27 L259.73 162.20 L260.23 164.07 L260.69 165.72 M261.52 168.55 L261.71 169.18 L262.21 170.73 L262.70 172.20 L262.95 172.91 M263.97 175.65 L264.18 176.20 L264.68 177.39 L265.17 178.53 L265.67 179.61 L265.76 179.80 M267.07 182.36 L267.15 182.51 L267.65 183.38 L268.14 184.20 L268.64 184.97 L269.13 185.70 L269.41 186.09 M271.14 188.26 L271.60 188.77 L272.10 189.29 L272.59 189.77 L273.09 190.23 L273.58 190.66 L274.08 191.06 L274.20 191.16 M276.37 192.64 L276.55 192.75 L277.04 193.04 L277.54 193.30 L278.03 193.55 L278.53 193.78 L279.02 194.00 L279.52 194.21 L279.98 194.39 M282.39 195.18 L282.48 195.21 L282.98 195.34 L283.47 195.47 L283.97 195.59 L284.46 195.70 L284.96 195.80 L285.45 195.90 L285.94 195.99 L286.22 196.04 M288.70 196.41 L288.91 196.44 L289.41 196.50 L289.90 196.55 L290.40 196.60 L290.89 196.65 L291.38 196.70 L291.88 196.74 L292.37 196.78 L292.59 196.80 M295.09 196.96 L295.34 196.98 L295.84 197.00 L296.33 197.03 L296.82 197.05 L297.32 197.07 L297.81 197.09 L298.31 197.11 L298.80 197.13 L298.98 197.13 M301.48 197.21 L301.77 197.21 L302.26 197.23 L302.76 197.24 L303.25 197.25 L303.75 197.26 L304.24 197.26 L304.74 197.27 L305.23 197.28 L305.38 197.28 M307.88 197.32 L308.20 197.32 L308.69 197.32 L309.19 197.33 L309.68 197.33 L310.18 197.34 L310.67 197.34 L311.17 197.34 L311.66 197.35 L311.78 197.35 M314.28 197.36 L314.63 197.36 L315.12 197.37 L315.62 197.37 L316.11 197.37 L316.61 197.37 L317.10 197.37 L317.60 197.38 L318.09 197.38 L318.18 197.38 M320.68 197.38 L321.06 197.38 L321.55 197.39 L322.05 197.39 L322.54 197.39 L323.04 197.39 L323.53 197.39 L324.02 197.39 L324.52 197.39 L324.58 197.39" fill="none" stroke="#1c1cb8" stroke-width="1.2"/>
<path d="M54.50 197.40 L54.99 197.38 L55.49 197.35 L55.98 197.33 L56.48 197.30 L56.97 197.27 L57.47 197.24 L57.96 197.21 L58.46 197.17 L58.95 197.14 L59.45 197.10 L59.94 197.06 L60.43 197.02 L60.93 196.98 L61.42 196.93 L61.92 196.89 L62.41 196.84 L62.91 196.79 L63.40 196.73 L63.90 196.67 L64.39 196.61 L64.89 196.55 L65.38 196.48 L65.87 196.42 L66.37 196.34 L66.86 196.27 L67.36 196.19 L67.85 196.11 L68.35 196.02 L68.84 195.93 L69.34 195.84 L69.83 195.75 L70.33 195.65 L70.82 195.54 L71.31 195.43 L71.81 195.32 L72.30 195.21 L72.80 195.09 L73.29 194.96 L73.79 194.83 L74.28 194.70 L74.78 194.57 L75.27 194.43 L75.77 194.29 L76.26 194.14 L76.75 193.99 L77.25 193.83 L77.74 193.68 L78.24 193.52 L78.73 193.35 L79.23 193.19 L79.72 193.02 L80.22 192.85 L80.71 192.67 L81.21 192.50 L81.70 192.32 L82.19 192.14 L82.69 191.96 L83.18 191.78 L83.68 191.60 L84.17 191.41 L84.67 191.23 L85.16 191.05 L85.66 190.87 L86.15 190.69 L86.65 190.51 L87.14 190.33 L87.63 190.16 L88.13 189.98 L88.62 189.81 L89.12 189.64 L89.61 189.48 L90.11 189.31 L90.60 189.15 L91.10 189.00 L91.59 188.84 L92.09 188.69 L92.58 188.54 L93.07 188.40 L93.57 188.26 L94.06 188.13 L94.56 187.99 L95.05 187.87 L95.55 187.74 L96.04 187.62 L96.54 187.51 L97.03 187.40 L97.52 187.29 L98.02 187.18 L98.51 187.08 L99.01 186.99 L99.50 186.90 L100.00 186.81 L100.49 186.72 L100.99 186.64 L101.48 186.56 L101.98 186.49 L102.47 186.41 L102.96 186.34 L103.46 186.28 L103.95 186.22 L104.45 186.16 L104.94 186.10 L105.44 186.04 L105.93 185.99 L106.43 185.94 L106.92 185.90 L107.42 185.85 L107.91 185.81 L108.40 185.77 L108.90 185.73 L109.39 185.69 L109.89 185.65 L110.38 185.62 L110.88 185.59 L111.37 185.56 L111.87 185.53 L112.36 185.50 L112.86 185.48 L113.35 185.45 L113.84 185.43 L114.34 185.41 L114.83 185.39 L115.33 185.37 L115.82 185.35 L116.32 185.33 L116.81 185.31 L117.31 185.28 L117.80 185.26 L118.30 185.24 L118.79 185.22 L119.28 185.20 L119.78 185.19 L120.27 185.17 L120.77 185.15 L121.26 185.14 L121.76 185.12 L122.25 185.10 L122.75 185.09 L123.24 185.07 L123.74 185.06 L124.23 185.05 L124.72 185.03 L125.22 185.02 L125.71 185.01 L126.21 185.00 L126.70 184.98 L127.20 184.97 L127.69 184.96 L128.19 184.95 L128.68 184.94 L129.18 184.93 L129.67 184.92 L130.16 184.91 L130.66 184.90 L131.15 184.89 L131.65 184.88 L132.14 184.87 L132.64 184.86 L133.13 184.85 L133.63 184.84 L134.12 184.83 L134.62 184.83 L135.11 184.82 L135.60 184.81 L136.10 184.80 L136.59 184.79 L137.09 184.78 L137.58 184.78 L138.08 184.77 L138.57 184.76 L139.07 184.75 L139.56 184.75 L140.06 184.74 L140.55 184.73 L141.04 184.72 L141.54 184.72 L142.03 184.71 L142.53 184.70 L143.02 184.69 L143.52 184.69 L144.01 184.68 L144.51 184.67 L145.00 184.66 L145.50 184.66 L145.99 184.65 L146.48 184.64 L146.98 184.64 L147.47 184.63 L147.97 184.62 L148.46 184.62 L148.96 184.61 L149.45 184.60 L149.95 184.60 L150.44 184.59 L150.94 184.58 L151.43 184.58 L151.92 184.57 L152.42 184.56 L152.91 184.55 L153.41 184.55 L153.90 184.54 L154.40 184.53 L154.89 184.53 L155.39 184.52 L155.88 184.51 L156.38 184.51 L156.87 184.50 L157.36 184.50 L157.86 184.49 L158.35 184.48 L158.85 184.48 L159.34 184.47 L159.84 184.46 L160.33 184.46 L160.83 184.45 L161.32 184.44 L161.82 184.44 L162.31 184.43 L162.80 184.42 L163.30 184.42 L163.79 184.41 L164.29 184.40 L164.78 184.40 L165.28 184.39 L165.77 184.38 L166.27 184.38 L166.76 184.37 L167.26 184.36 L167.75 184.36 L168.24 184.35 L168.74 184.34 L169.23 184.34 L169.73 184.33 L170.22 184.32 L170.72 184.32 L171.21 184.31 L171.71 184.30 L172.20 184.30 L172.70 184.29 L173.19 184.28 L173.68 184.28 L174.18 184.27 L174.67 184.26 L175.17 184.26 L175.66 184.25 L176.16 184.25 L176.65 184.24 L177.15 184.23 L177.64 184.23 L178.13 184.22 L178.63 184.21 L179.12 184.21 L179.62 184.20 L180.11 184.19 L180.61 184.18 L181.10 184.18 L181.60 184.17 L182.09 184.16 L182.59 184.16 L183.08 184.15 L183.57 184.14 L184.07 184.14 L184.56 184.13 L185.06 184.12 L185.55 184.12 L186.05 184.11 L186.54 184.10 L187.04 184.10 L187.53 184.09 L188.03 184.08 L188.52 184.07 L189.01 184.07 L189.51 184.06 L190.00 184.05 L190.50 184.05 L190.99 184.04 L191.49 184.03 L191.98 184.02 L192.48 184.02 L192.97 184.01 L193.47 184.00 L193.96 183.99 L194.45 183.98 L194.95 183.98 L195.44 183.97 L195.94 183.96 L196.43 183.95 L196.93 183.94 L197.42 183.94 L197.92 183.93 L198.41 183.92 L198.91 183.91 L199.40 183.90 L199.89 183.89 L200.39 183.88 L200.88 183.87 L201.38 183.86 L201.87 183.85 L202.37 183.84 L202.86 183.83 L203.36 183.82 L203.85 183.81 L204.35 183.80 L204.84 183.79 L205.33 183.78 L205.83 183.77 L206.32 183.76 L206.82 183.75 L207.31 183.73 L207.81 183.72 L208.30 183.71 L208.80 183.69 L209.29 183.68 L209.79 183.67 L210.28 183.65 L210.77 183.64 L211.27 183.62 L211.76 183.60 L212.26 183.59 L212.75 183.57 L213.25 183.55 L213.74 183.53 L214.24 183.51 L214.73 183.49 L215.23 183.47 L215.72 183.45 L216.21 183.43 L216.71 183.40 L217.20 183.38 L217.70 183.35 L218.19 183.32 L218.69 183.30 L219.18 183.27 L219.68 183.24 L220.17 183.20 L220.67 183.17 L221.16 183.13 L221.65 183.10 L222.15 183.06 L222.64 183.02 L223.14 182.98 L223.63 182.93 L224.13 182.88 L224.62 182.83 L225.12 182.78 L225.61 182.73 L226.11 182.67 L226.60 182.61 L227.09 182.55 L227.59 182.48 L228.08 182.41 L228.58 182.34 L229.07 182.26 L229.57 182.18 L230.06 182.09 L230.56 182.00 L231.05 181.91 L231.55 181.81 L232.04 181.70 L232.53 181.59 L233.03 181.47 L233.52 181.35 L234.02 181.22 L234.51 181.08 L235.01 180.93 L235.50 180.78 L236.00 180.62 L236.49 180.45 L236.99 180.26 L237.48 180.07 L237.97 179.87 L238.47 179.66 L238.96 179.44 L239.46 179.20 L239.95 178.96 L240.45 178.69 L240.94 178.42 L241.44 178.13 L241.93 177.82 L242.43 177.49 L242.92 177.15 L243.41 176.79 L243.91 176.41 L244.40 176.01 L244.90 175.59 L245.39 175.15 L245.89 174.68 L246.38 174.19 L246.88 173.67 L247.37 173.12 L247.87 172.55 L248.36 171.94 L248.85 171.31 L249.35 170.64 L249.84 169.94 L250.34 169.20 L250.83 168.43 L251.33 167.62 L251.82 166.77 L252.32 165.88 L252.81 164.95 L253.31 163.97 L253.80 162.95 L254.29 161.88 L254.79 160.77 L255.28 159.61 L255.78 158.40 L256.27 157.14 L256.77 155.83 L257.26 154.47 L257.76 153.06 L258.25 151.60 L258.75 150.09 L259.24 148.52 L259.73 146.91 L260.23 145.24 L260.72 143.53 L261.22 141.77 L261.71 139.97 L262.21 138.12 L262.70 136.23 L263.20 134.30 L263.69 132.34 L264.18 130.35 L264.68 128.32 L265.17 126.27 L265.67 124.20 L266.16 122.11 L266.66 120.01 L267.15 117.90 L267.65 115.79 L268.14 113.68 L268.64 111.57 L269.13 109.47 L269.62 107.38 L270.12 105.31 L270.61 103.27 L271.11 101.25 L271.60 99.25 L272.10 97.29 L272.59 95.37 L273.09 93.48 L273.58 91.64 L274.08 89.84 L274.57 88.09 L275.06 86.38 L275.56 84.72 L276.05 83.11 L276.55 81.55 L277.04 80.04 L277.54 78.59 L278.03 77.18 L278.53 75.83 L279.02 74.52 L279.52 73.27 L280.01 72.07 L280.50 70.91 L281.00 69.81 L281.49 68.75 L281.99 67.73 L282.48 66.76 L282.98 65.84 L283.47 64.95 L283.97 64.11 L284.46 63.31 L284.96 62.54 L285.45 61.81 L285.94 61.12 L286.44 60.45 L286.93 59.83 L287.43 59.23 L287.92 58.66 L288.42 58.12 L288.91 57.61 L289.41 57.12 L289.90 56.66 L290.40 56.22 L290.89 55.81 L291.38 55.42 L291.88 55.04 L292.37 54.69 L292.87 54.35 L293.36 54.04 L293.86 53.74 L294.35 53.45 L294.85 53.18 L295.34 52.93 L295.84 52.68 L296.33 52.45 L296.82 52.24 L297.32 52.03 L297.81 51.84 L298.31 51.65 L298.80 51.48 L299.30 51.32 L299.79 51.16 L300.29 51.01 L300.78 50.87 L301.28 50.74 L301.77 50.62 L302.26 50.50 L302.76 50.39 L303.25 50.28 L303.75 50.18 L304.24 50.09 L304.74 50.00 L305.23 49.91 L305.73 49.83 L306.22 49.76 L306.72 49.68 L307.21 49.62 L307.70 49.55 L308.20 49.49 L308.69 49.43 L309.19 49.38 L309.68 49.33 L310.18 49.28 L310.67 49.23 L311.17 49.19 L311.66 49.15 L312.16 49.11 L312.65 49.07 L313.14 49.04 L313.64 49.01 L314.13 48.97 L314.63 48.94 L315.12 48.92 L315.62 48.89 L316.11 48.87 L316.61 48.84 L317.10 48.82 L317.60 48.80 L318.09 48.78 L318.58 48.76 L319.08 48.74 L319.57 48.72 L320.07 48.71 L320.56 48.69 L321.06 48.68 L321.55 48.66 L322.05 48.65 L322.54 48.64 L323.04 48.63 L323.53 48.62 L324.02 48.60 L324.52 48.59 L325.01 48.58 L325.51 48.58 L326.00 48.57 L326.50 48.56" fill="none" stroke="#b81c1c" stroke-width="1.2"/>
<path d="M54.50 196.91 L54.99 196.86 L55.49 196.80 L55.98 196.75 L56.48 196.68 L56.97 196.62 L57.47 196.55 L57.96 196.47 L58.38 196.40 M60.84 195.90 L60.93 195.88 L61.42 195.76 L61.92 195.63 L62.41 195.49 L62.91 195.35 L63.40 195.20 L63.90 195.04 L64.39 194.87 L64.63 194.78 M67.00 193.84 L67.36 193.68 L67.85 193.45 L68.35 193.22 L68.84 192.97 L69.34 192.72 L69.83 192.46 L70.33 192.20 L70.60 192.05 M72.85 190.74 L73.29 190.47 L73.79 190.17 L74.28 189.86 L74.78 189.55 L75.27 189.24 L75.77 188.93 L76.26 188.62 L76.31 188.59 M78.54 187.21 L78.73 187.09 L79.23 186.80 L79.72 186.52 L80.22 186.24 L80.71 185.97 L81.21 185.71 L81.70 185.46 L82.08 185.27 M84.45 184.30 L84.67 184.23 L85.16 184.08 L85.66 183.94 L86.15 183.82 L86.65 183.72 L87.14 183.63 L87.63 183.57 L88.13 183.52 L88.28 183.51 M90.78 183.59 L91.10 183.63 L91.59 183.72 L92.09 183.82 L92.58 183.94 L93.07 184.08 L93.57 184.23 L94.06 184.40 L94.56 184.58 L94.58 184.59 M96.92 185.65 L97.03 185.71 L97.52 185.97 L98.02 186.24 L98.51 186.52 L99.01 186.80 L99.50 187.09 L100.00 187.39 L100.44 187.66 M102.66 189.05 L102.96 189.24 L103.46 189.55 L103.95 189.86 L104.45 190.17 L104.94 190.47 L105.44 190.77 L105.93 191.07 L106.13 191.19 M108.39 192.46 L108.40 192.46 L108.90 192.72 L109.39 192.97 L109.89 193.22 L110.38 193.45 L110.88 193.68 L111.37 193.90 L111.87 194.11 L112.02 194.17 M114.41 195.06 L114.83 195.20 L115.33 195.35 L115.82 195.49 L116.32 195.63 L116.81 195.76 L117.31 195.88 L117.80 195.99 L118.21 196.08 M120.68 196.53 L120.77 196.55 L121.26 196.62 L121.76 196.68 L122.25 196.75 L122.75 196.80 L123.24 196.86 L123.74 196.91 L124.23 196.95 L124.57 196.98 M127.06 197.15 L127.20 197.15 L127.69 197.18 L128.19 197.20 L128.68 197.22 L129.18 197.24 L129.67 197.26 L130.16 197.27 L130.66 197.29 L130.96 197.29 M133.46 197.34 L133.63 197.34 L134.12 197.35 L134.62 197.36 L135.11 197.36 L135.60 197.37 L136.10 197.37 L136.59 197.37 L137.09 197.38 L137.36 197.38 M139.86 197.39 L140.06 197.39 L140.55 197.39 L141.04 197.39 L141.54 197.39 L142.03 197.39 L142.53 197.39 L143.02 197.40 L143.52 197.40 L143.76 197.40 M146.26 197.40 L146.48 197.40 L146.98 197.40 L147.47 197.40 L147.97 197.40 L148.46 197.40 L148.96 197.40 L149.45 197.40 L149.95 197.40 L150.16 197.40 M152.66 197.40 L152.91 197.40 L153.41 197.40 L153.90 197.40 L154.40 197.40 L154.89 197.40 L155.39 197.40 L155.88 197.40 L156.38 197.40 L156.56 197.40 M159.06 197.40 L159.34 197.40 L159.84 197.40 L160.33 197.40 L160.83 197.40 L161.32 197.40 L161.82 197.40 L162.31 197.39 L162.80 197.39 L162.96 197.39 M165.46 197.39 L165.77 197.39 L166.27 197.39 L166.76 197.39 L167.26 197.39 L167.75 197.39 L168.24 197.39 L168.74 197.39 L169.23 197.39 L169.36 197.39 M171.86 197.39 L172.20 197.39 L172.70 197.38 L173.19 197.38 L173.68 197.38 L174.18 197.38 L174.67 197.38 L175.17 197.38 L175.66 197.38 L175.76 197.38 M178.26 197.37 L178.63 197.37 L179.12 197.37 L179.62 197.37 L180.11 197.37 L180.61 197.36 L181.10 197.36 L181.60 197.36 L182.09 197.36 L182.16 197.36 M184.66 197.35 L185.06 197.34 L185.55 197.34 L186.05 197.34 L186.54 197.33 L187.04 197.33 L187.53 197.33 L188.03 197.32 L188.52 197.32 L188.56 197.32 M191.06 197.29 L191.49 197.29 L191.98 197.28 L192.48 197.27 L192.97 197.27 L193.47 197.26 L193.96 197.25 L194.45 197.25 L194.95 197.24 L194.96 197.24 M197.46 197.19 L197.92 197.18 L198.41 197.16 L198.91 197.15 L199.40 197.14 L199.89 197.12 L200.39 197.11 L200.88 197.09 L201.36 197.08 M203.86 196.98 L204.35 196.96 L204.84 196.93 L205.33 196.91 L205.83 196.88 L206.32 196.86 L206.82 196.83 L207.31 196.80 L207.75 196.77 M210.25 196.57 L210.28 196.57 L210.77 196.53 L211.27 196.48 L211.76 196.43 L212.26 196.38 L212.75 196.32 L213.25 196.26 L213.74 196.20 L214.13 196.15 M216.61 195.78 L216.71 195.76 L217.20 195.67 L217.70 195.58 L218.19 195.48 L218.69 195.38 L219.18 195.27 L219.68 195.15 L220.17 195.03 L220.45 194.96 M222.88 194.25 L223.14 194.16 L223.63 193.98 L224.13 193.80 L224.62 193.61 L225.12 193.40 L225.61 193.19 L226.11 192.96 L226.57 192.74 M228.83 191.47 L229.07 191.32 L229.57 190.99 L230.06 190.65 L230.56 190.29 L231.05 189.90 L231.55 189.50 L232.04 189.08 L232.13 188.99 M234.07 187.09 L234.51 186.59 L235.01 186.02 L235.50 185.41 L236.00 184.77 L236.49 184.09 L236.76 183.71 M238.28 181.33 L238.47 181.02 L238.96 180.15 L239.46 179.23 L239.95 178.27 L240.38 177.39 M241.57 174.75 L241.93 173.90 L242.43 172.66 L242.92 171.37 L243.23 170.52 M244.18 167.74 L244.40 167.08 L244.90 165.51 L245.39 163.86 L245.54 163.35 M246.33 160.51 L246.38 160.33 L246.88 158.44 L247.37 156.47 L247.47 156.04 M248.15 153.15 L248.36 152.25 L248.85 150.00 L249.15 148.62 M249.74 145.71 L249.84 145.22 L250.34 142.68 L250.63 141.15 M251.16 138.22 L251.33 137.31 L251.82 134.48 L251.96 133.64 M252.45 130.70 L252.81 128.52 L253.19 126.10 M253.65 123.15 L253.80 122.18 L254.29 118.88 L254.34 118.55 M254.78 115.59 L254.79 115.50 L255.28 112.05 L255.43 110.98 M255.85 108.02 L256.27 104.96 L256.48 103.41 M256.89 100.44 L257.26 97.68 L257.51 95.83 M257.91 92.86 L258.25 90.34 L258.53 88.24 M258.93 85.28 L259.24 83.05 L259.57 80.66 M259.98 77.71 L260.23 75.97 L260.65 73.09 M261.09 70.14 L261.22 69.28 L261.71 66.14 L261.81 65.54 M262.31 62.60 L262.70 60.39 L263.16 58.04 M263.78 55.13 L264.18 53.45 L264.68 51.67 L265.01 50.69 M266.23 48.10 L266.66 47.66 L267.15 47.49 L267.65 47.66 L268.14 48.17 L268.64 49.02 L269.00 49.87 M269.90 52.67 L270.12 53.45 L270.61 55.51 L270.97 57.17 M271.54 60.09 L271.60 60.39 L272.10 63.17 L272.35 64.67 M272.82 67.61 L273.09 69.28 L273.53 72.22 M273.96 75.17 L274.08 75.97 L274.57 79.47 L274.61 79.78 M275.02 82.74 L275.06 83.05 L275.56 86.68 L275.65 87.36 M276.05 90.32 L276.05 90.34 L276.55 94.01 L276.67 94.94 M277.07 97.91 L277.54 101.34 L277.70 102.52 M278.10 105.48 L278.53 108.53 L278.75 110.10 M279.17 113.06 L279.52 115.50 L279.83 117.67 M280.27 120.62 L280.50 122.18 L280.97 125.23 M281.44 128.17 L281.49 128.52 L281.99 131.55 L282.19 132.77 M282.70 135.70 L282.98 137.31 L283.47 140.05 L283.52 140.28 M284.07 143.21 L284.46 145.22 L284.96 147.66 L284.98 147.76 M285.60 150.66 L285.94 152.25 L286.44 154.40 L286.62 155.18 M287.33 158.06 L287.43 158.44 L287.92 160.33 L288.42 162.14 L288.52 162.51 M289.36 165.34 L289.41 165.51 L289.90 167.08 L290.40 168.58 L290.78 169.69 M291.79 172.44 L291.88 172.66 L292.37 173.90 L292.87 175.07 L293.36 176.19 L293.56 176.61 M294.83 179.19 L294.85 179.23 L295.34 180.15 L295.84 181.03 L296.33 181.86 L296.82 182.65 L297.07 183.02 M298.68 185.31 L298.80 185.46 L299.30 186.08 L299.79 186.67 L300.29 187.23 L300.78 187.76 L301.28 188.27 L301.52 188.51 M303.54 190.28 L303.75 190.44 L304.24 190.81 L304.74 191.16 L305.23 191.49 L305.73 191.81 L306.22 192.11 L306.72 192.39 L306.96 192.53 M309.28 193.65 L309.68 193.82 L310.18 194.01 L310.67 194.20 L311.17 194.38 L311.66 194.54 L312.16 194.70 L312.65 194.85 L313.02 194.95 M315.47 195.56 L315.62 195.59 L316.11 195.69 L316.61 195.79 L317.10 195.88 L317.60 195.96 L318.09 196.05 L318.58 196.12 L319.08 196.19 L319.33 196.23 M321.81 196.53 L322.05 196.55 L322.54 196.60 L323.04 196.65 L323.53 196.69 L324.02 196.73 L324.52 196.77 L325.01 196.81 L325.51 196.84 L325.71 196.86" fill="none" stroke="#b81c1c" stroke-width="1.2"/>
</g>
<rect x="48.5" y="44.2" width="284.0" height="156.4" fill="none" stroke="#8c8c8c" stroke-width="0.7"/>
<line x1="54.50" y1="200.6" x2="54.50" y2="198.2" stroke="#8c8c8c" stroke-width="0.6"/>
<line x1="89.12" y1="200.6" x2="89.12" y2="198.2" stroke="#8c8c8c" stroke-width="0.6"/>
<line x1="116.32" y1="200.6" x2="116.32" y2="198.2" stroke="#8c8c8c" stroke-width="0.6"/>
<line x1="128.68" y1="200.6" x2="128.68" y2="198.2" stroke="#8c8c8c" stroke-width="0.6"/>
<line x1="178.13" y1="200.6" x2="178.13" y2="198.2" stroke="#8c8c8c" stroke-width="0.6"/>
<line x1="227.59" y1="200.6" x2="227.59" y2="198.2" stroke="#8c8c8c" stroke-width="0.6"/>
<line x1="239.95" y1="200.6" x2="239.95" y2="198.2" stroke="#8c8c8c" stroke-width="0.6"/>
<line x1="267.15" y1="200.6" x2="267.15" y2="198.2" stroke="#8c8c8c" stroke-width="0.6"/>
<line x1="326.50" y1="200.6" x2="326.50" y2="198.2" stroke="#8c8c8c" stroke-width="0.6"/>
<line x1="48.5" y1="197.40" x2="52.1" y2="197.40" stroke="#8c8c8c" stroke-width="0.6"/>
<line x1="48.5" y1="149.73" x2="52.1" y2="149.73" stroke="#8c8c8c" stroke-width="0.6"/>
<line x1="48.5" y1="102.06" x2="52.1" y2="102.06" stroke="#8c8c8c" stroke-width="0.6"/>
<line x1="48.5" y1="54.39" x2="52.1" y2="54.39" stroke="#8c8c8c" stroke-width="0.6"/>
<line x1="332.5" y1="197.40" x2="329.3" y2="197.40" stroke="#8c8c8c" stroke-width="0.6"/>
<line x1="332.5" y1="151.77" x2="329.3" y2="151.77" stroke="#8c8c8c" stroke-width="0.6"/>
<line x1="332.5" y1="106.13" x2="329.3" y2="106.13" stroke="#8c8c8c" stroke-width="0.6"/>
<line x1="332.5" y1="60.50" x2="329.3" y2="60.50" stroke="#8c8c8c" stroke-width="0.6"/>

<g filter="url(#f)"><g transform="rotate(0.05 191 122)">
<text x="54.80" y="209.0" text-anchor="middle" class="t">2</text>
<text x="89.42" y="209.0" text-anchor="middle" class="t">3.4</text>
<text x="116.62" y="209.0" text-anchor="middle" class="t">4.5</text>
<text x="128.98" y="209.0" text-anchor="middle" class="t">5</text>
<text x="178.44" y="209.0" text-anchor="middle" class="t">7</text>
<text x="227.89" y="209.0" text-anchor="middle" class="t">9</text>
<text x="240.25" y="209.0" text-anchor="middle" class="t">9.5</text>
<text x="267.45" y="209.0" text-anchor="middle" class="t">10.6</text>
<text x="326.80" y="209.0" text-anchor="middle" class="t">13</text>
<text x="46.1" y="199.75" text-anchor="end" class="t">0</text>
<text x="46.1" y="152.08" text-anchor="end" class="t">0.1</text>
<text x="46.1" y="104.41" text-anchor="end" class="t">0.2</text>
<text x="46.1" y="56.74" text-anchor="end" class="t">0.3</text>
<text x="335" y="199.75" text-anchor="start" class="t">0</text>
<text x="335" y="154.12" text-anchor="start" class="t">0.02</text>
<text x="335" y="108.48" text-anchor="start" class="t">0.04</text>
<text x="335" y="62.85" text-anchor="start" class="t">0.06</text>

<g class="lg" fill="#333"><text transform="translate(168.1,56.9) scale(1.15,1)" font-style="italic">τ</text><text transform="translate(173.5,56.9) scale(1.25,1)">=</text><text x="180.1" y="56.9">0</text><text x="186" y="56.9">Γ</text></g>
<g class="lg" fill="#2c2cb8"><text transform="translate(165.8,71.1) scale(1.15,1)" font-style="italic">τ</text><text transform="translate(171.6,71.1) scale(1.25,1)">=</text><text x="176.6" y="71.1">1.5</text><text x="189.2" y="71.1">Γ</text></g>
<g class="lg" fill="#b82c2c"><text transform="translate(168.1,85.3) scale(1.15,1)" font-style="italic">τ</text><text transform="translate(173.5,85.3) scale(1.25,1)">=</text><text x="180.3" y="85.3">3</text><text x="185.8" y="85.3">Γ</text></g>
<!-- x label -->
<text x="188.2" y="222.4" text-anchor="middle" class="ax" font-style="italic" style="font-size:8.8px">V</text>
<line x1="184.8" y1="227.4" x2="194.6" y2="227.4" stroke="#666" stroke-width="0.9"/>
<text x="189.4" y="238.9" text-anchor="middle" class="ax axb">Γ</text>
<!-- left label -->
<g transform="translate(17.85,122.4) rotate(-90) scale(1,1.16)">
<text x="-2.6" y="-5.0" text-anchor="middle" class="ax" font-style="italic" style="font-size:8.8px">I</text>
<text x="-1.0" y="10.4" text-anchor="middle" class="ax axb" style="font-size:8.8px">Γ</text>
</g>
<line x1="17.85" y1="119" x2="17.85" y2="125.7" stroke="#707070" stroke-width="1.3"/>
<!-- right label -->
<g transform="translate(367.4,122.3) rotate(-90) scale(1,1.14)">
<text x="-0.5" y="-5.2" text-anchor="middle" class="ax axc" style="font-size:8.5px">dI</text>
<text x="0.3" y="11.3" text-anchor="middle" class="ax axc" style="font-size:8.5px">dV</text>
</g>
<line x1="367.4" y1="116.7" x2="367.4" y2="127.8" stroke="#555" stroke-width="0.9"/>
</g></g>
</svg>
</body></html>
